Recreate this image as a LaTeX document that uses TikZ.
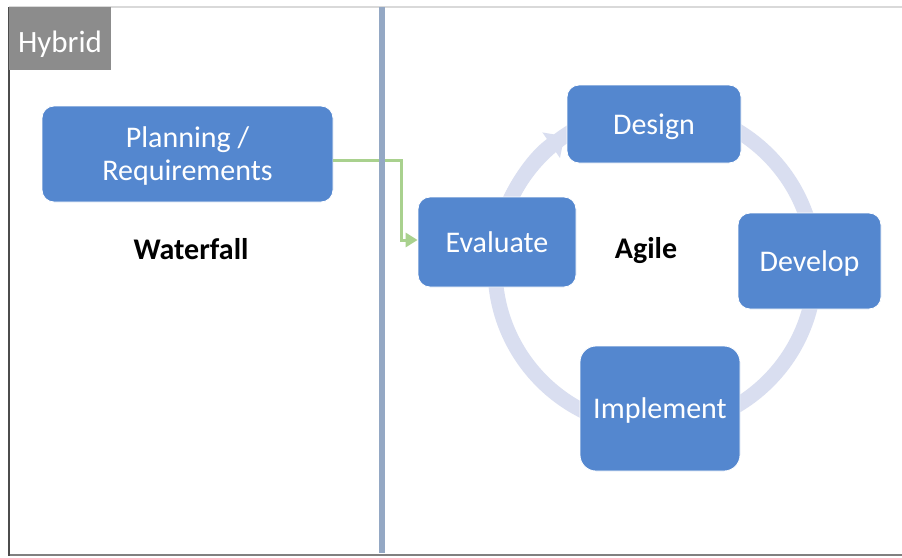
\documentclass[tikz,border=0pt]{standalone}
\usepackage{fontspec}
\setmainfont{Carlito}
\usetikzlibrary{arrows.meta}
\definecolor{boxblue}{RGB}{84,135,207}
\definecolor{cyclecol}{RGB}{217,222,240}
\definecolor{divcol}{RGB}{148,168,196}
\definecolor{greencol}{RGB}{169,209,142}
\definecolor{hybgray}{RGB}{140,140,140}
\tikzset{
  stepbox/.style={fill=boxblue, draw=white, line width=0.8pt, rounded corners=12pt, text=white, align=center, font=\fontsize{30}{34}\selectfont, inner sep=0pt, text depth=0pt},
  boldlabel/.style={font=\fontsize{30}{34}\selectfont\bfseries, text=black},
}
\begin{document}
\begin{tikzpicture}[x=1pt,y=-1pt]
\useasboundingbox (0,0) rectangle (902,557);
\fill[white] (0,0) rectangle (902,557);
% frame
\draw[line width=1.5pt, black!15] (9,7) -- (902,7);
\draw[line width=2pt, black!50] (9,555) -- (902,555);
\draw[line width=2pt, black!70] (9,7) -- (9,556);
% hybrid label
\node[fill=hybgray, minimum width=102pt, minimum height=63pt, inner sep=0pt, anchor=north west] (hybbox) at (9,7) {};
\node[text=white, font=\fontsize{31}{34}\selectfont, text depth=0pt] (hyb) at (60,42) {Hybrid};
% cycle ring
\coordinate (cc) at (655,268);
\draw[cyclecol, line width=15pt] (cc) circle[radius=160];
\draw[cyclecol, line width=15pt, -{Triangle[length=16pt,width=30pt]}] (cc) ++(200:160) arc[start angle=200, end angle=235.5, radius=160];
% left panel
\node[stepbox, minimum width=291pt, minimum height=96pt] (plan) at (187.5,154) {Planning /\\[-1pt]Requirements};
\node[boldlabel] (wf) at (191,249) {Waterfall};
% green connector
\coordinate (bend1) at (401,160);
\coordinate (bend2) at (401,240);
% agile boxes
\node[stepbox, minimum width=158pt, minimum height=90pt] (eval) at (497,242) {Evaluate};
\node[stepbox, minimum width=174pt, minimum height=78pt] (design) at (654,124) {Design};
\node[stepbox, minimum width=143pt, minimum height=96pt] (develop) at (809.5,261) {Develop};
\node[stepbox, minimum width=160pt, minimum height=125pt, rounded corners=16pt] (impl) at (660,408.5) {Implement};
\node[boldlabel] (agile) at (646,251) {Agile};
\draw[greencol, line width=3pt, -{Triangle[length=12pt,width=14pt]}] (plan.east |- bend1) -- (bend1) -- (bend2) -- (eval.west |- bend2);
% divider
\draw[divcol, line width=6pt] (382,7) -- (382,553);
\end{tikzpicture}
\end{document}
